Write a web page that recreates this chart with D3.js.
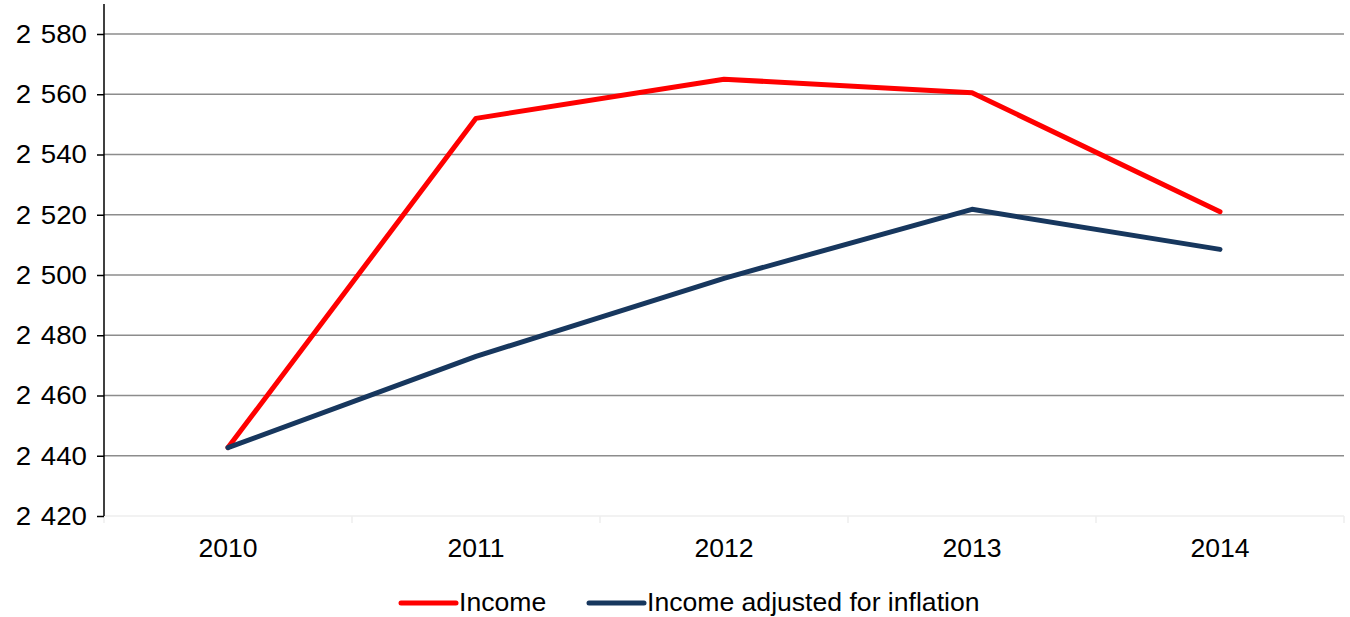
<!DOCTYPE html>
<html>
<head>
<meta charset="utf-8">
<script src="https://cdn.jsdelivr.net/npm/d3@7"></script>
<style>
  html, body { margin: 0; padding: 0; background: #fff; }
  svg { display: block; font-family: "Liberation Sans", Arial, sans-serif; }
</style>
</head>
<body>
<svg id="chart" width="1350" height="617"></svg>
<script>
// Yearly figures
const years = ["2010", "2011", "2012", "2013", "2014"];
const income = [2442.7, 2552, 2565, 2560.5, 2521];
const incomeAdjusted = [2442.7, 2473, 2498.9, 2521.8, 2508.5];
const yTicks = [2420, 2440, 2460, 2480, 2500, 2520, 2540, 2560, 2580];
const seriesNames = ["Income", "Income adjusted for inflation"];
const seriesColors = ["#ff0000", "#17375e"];

const svg = d3.select("#chart");
const plotLeft = 104, plotRight = 1344, plotTop = 34 - 30.125, plotBottom = 516;
const stretch = 1.064; // slightly wide lettering

const x = d3.scaleBand().domain(years).range([plotLeft, plotRight]);
const y = d3.scaleLinear().domain([2420, 2590]).range([plotBottom, plotTop]);

// Text helper: places a label at (tx, ty) with a small horizontal stretch
function label(parent, tx, ty, str, anchor) {
  return parent.append("text")
    .attr("transform", `translate(${tx},${ty}) scale(${stretch},1)`)
    .attr("text-anchor", anchor || "start")
    .attr("font-size", 25)
    .attr("fill", "#000")
    .text(str);
}

// Horizontal gridlines
svg.append("g")
  .selectAll("line")
  .data(yTicks.filter(d => d > 2420))
  .join("line")
  .attr("x1", plotLeft).attr("x2", plotRight)
  .attr("y1", d => y(d)).attr("y2", d => y(d))
  .attr("stroke", "#8c8c8c").attr("stroke-width", 1.6);

// Category axis (faint baseline with ticks between categories)
const xAxis = svg.append("g").attr("transform", `translate(0,${plotBottom})`);
xAxis.append("line")
  .attr("x1", plotLeft).attr("x2", plotRight).attr("y1", 0).attr("y2", 0)
  .attr("stroke", "#eeeeee").attr("stroke-width", 1.5);
xAxis.selectAll("line.tick")
  .data(years.map(d => x(d) + x.bandwidth()).concat([plotLeft]))
  .join("line")
  .attr("class", "tick")
  .attr("x1", d => d).attr("x2", d => d).attr("y1", 0).attr("y2", 7)
  .attr("stroke", "#eeeeee").attr("stroke-width", 1.5);
years.forEach(d => label(xAxis, x(d) + x.bandwidth() / 2, 41, d, "middle"));

// Value axis
const yAxis = d3.axisLeft(y)
  .tickValues(yTicks)
  .tickSize(7)
  .tickPadding(10)
  .tickFormat(d => d3.format(",")(d).replace(",", " "));
const ya = svg.append("g").attr("transform", `translate(${plotLeft},0)`).call(yAxis);
ya.select(".domain").attr("stroke", "#000").attr("stroke-width", 1.5)
  .attr("d", `M0,${plotBottom}V${plotTop}`);
ya.selectAll(".tick line").attr("stroke", "#000").attr("stroke-width", 1.5);
ya.selectAll(".tick text")
  .attr("x", null)
  .attr("transform", `translate(-17,0) scale(${stretch},1)`)
  .attr("font-size", 26)
  .attr("word-spacing", 2)
  .attr("font-family", "'Liberation Sans', Arial, sans-serif")
  .attr("fill", "#000");

// Series lines
const line = d3.line()
  .x((d, i) => x(years[i]) + x.bandwidth() / 2)
  .y(d => y(d));
[income, incomeAdjusted].forEach((vals, i) => {
  svg.append("path")
    .datum(vals)
    .attr("d", line)
    .attr("fill", "none")
    .attr("stroke", seriesColors[i])
    .attr("stroke-width", 5)
    .attr("stroke-linecap", "round")
    .attr("stroke-linejoin", "round");
});

// Legend
const legendItems = [
  { name: seriesNames[0], color: seriesColors[0], x0: 401 },
  { name: seriesNames[1], color: seriesColors[1], x0: 589 }
];
const lg = svg.append("g");
legendItems.forEach(it => {
  lg.append("line")
    .attr("x1", it.x0).attr("x2", it.x0 + 55)
    .attr("y1", 603).attr("y2", 603)
    .attr("stroke", it.color).attr("stroke-width", 5)
    .attr("stroke-linecap", "round");
  label(lg, it.x0 + 58, 611, it.name);
});
</script>
</body>
</html>
